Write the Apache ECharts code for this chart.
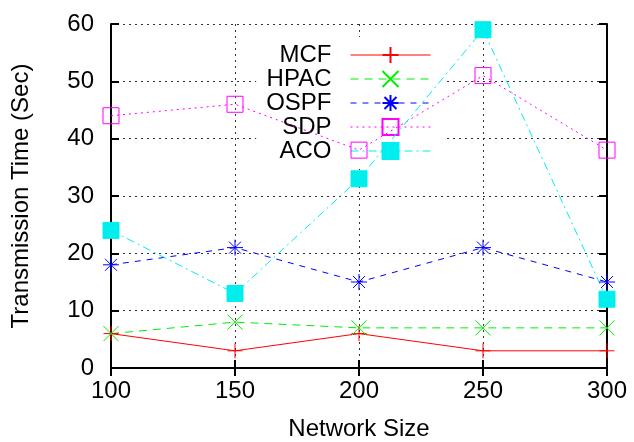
<!DOCTYPE html>
<html><head><meta charset="utf-8">
<script src="https://cdn.jsdelivr.net/npm/echarts@6/dist/echarts.min.js"></script>
<style>html,body{margin:0;padding:0;background:#fff}#c{width:634px;height:442px}</style>
</head><body><div id="c"></div>
<script>
const networkSizes = [100, 150, 200, 250, 300];
const mcf  = [6, 3, 6, 3, 3];
const hpac = [6, 8, 7, 7, 7];
const ospf = [18, 21, 15, 21, 15];
const sdp  = [44, 46, 38, 51, 38];
const aco  = [24, 13, 33, 59, 12];
const xTicks = [100, 150, 200, 250, 300];
const yTicks = [0, 10, 20, 30, 40, 50, 60];

const FONT = 'Liberation Sans';
const pair = (arr) => networkSizes.map((x, i) => [x, arr[i]]);

const plusPath = 'path://M0,-1L0,1M-1,0L1,0';
const crossPath = 'path://M-1,-1L1,1M-1,1L1,-1';
const starPath = 'path://M0,-1L0,1M-1,0L1,0M-0.75,-0.75L0.75,0.75M-0.75,0.75L0.75,-0.75';

function mk(name, data, color, dash, symbol, size, fill) {
  return {
    name, type: 'line', data: pair(data), z: 2, clip: false,
    symbol, symbolSize: size, showAllSymbol: true,
    lineStyle: { color, width: 1, type: dash },
    itemStyle: { color: fill, borderColor: color, borderWidth: 1 },
    emphasis: { disabled: true }
  };
}

const chart = echarts.init(document.getElementById('c'), null, { renderer: 'canvas' });
const gridLine = { show: true, lineStyle: { color: '#333', type: [2, 4], width: 1 } };
const frameLine = { show: true, lineStyle: { color: '#000', width: 2 } };
const frameTick = { show: true, inside: true, length: 8, lineStyle: { color: '#000', width: 2 } };
chart.setOption({
  animation: false,
  backgroundColor: '#fff',
  textStyle: { fontFamily: FONT },
  grid: { left: 111, right: 27, top: 24, bottom: 74, containLabel: false, outerBoundsMode: 'none' },
  legend: {
    orient: 'vertical', align: 'right', right: 191, top: 37, z: 1,
    backgroundColor: '#fff', padding: [6, 12, 6, 10],
    itemWidth: 80, itemHeight: 20, itemGap: 0,
    lineStyle: { width: 1 },
    textStyle: { fontFamily: FONT, fontSize: 24, color: '#000', padding: [0, 14, 0, 0] },
    data: ['MCF', 'HPAC', 'OSPF', 'SDP', 'ACO']
  },
  xAxis: [{
    type: 'value', min: 100, max: 300, interval: 50,
    name: 'Network Size', nameLocation: 'middle', nameGap: 49,
    nameTextStyle: { fontFamily: FONT, fontSize: 24, color: '#000' },
    axisLine: frameLine, axisTick: frameTick,
    axisLabel: { fontFamily: FONT, fontSize: 24, color: '#000', margin: 11, customValues: xTicks },
    splitLine: gridLine
  }, {
    type: 'value', position: 'top', min: 100, max: 300, interval: 50,
    axisLine: frameLine, axisTick: frameTick,
    axisLabel: { show: false }, splitLine: { show: false }
  }],
  yAxis: [{
    type: 'value', min: 0, max: 60, interval: 10,
    name: 'Transmission Time (Sec)', nameLocation: 'middle', nameGap: 78,
    nameTextStyle: { fontFamily: FONT, fontSize: 24, color: '#000' },
    axisLine: frameLine, axisTick: frameTick,
    axisLabel: { fontFamily: FONT, fontSize: 24, color: '#000', margin: 17, customValues: yTicks },
    splitLine: gridLine
  }, {
    type: 'value', position: 'right', min: 0, max: 60, interval: 10,
    axisLine: frameLine, axisTick: frameTick,
    axisLabel: { show: false }, splitLine: { show: false }
  }],
  series: [
    mk('MCF', mcf, '#ff0000', 'solid', plusPath, 15, 'rgba(0,0,0,0)'),
    mk('HPAC', hpac, '#00ee00', [8, 6], crossPath, 15, 'rgba(0,0,0,0)'),
    mk('OSPF', ospf, '#0000ff', [6, 6], starPath, 16, 'rgba(0,0,0,0)'),
    mk('SDP', sdp, '#ff00ff', [2, 4], 'rect', 16, 'rgba(0,0,0,0)'),
    mk('ACO', aco, '#00eeee', [8, 4, 2, 4], 'rect', 16, '#00eeee')
  ]
});
</script></body></html>
